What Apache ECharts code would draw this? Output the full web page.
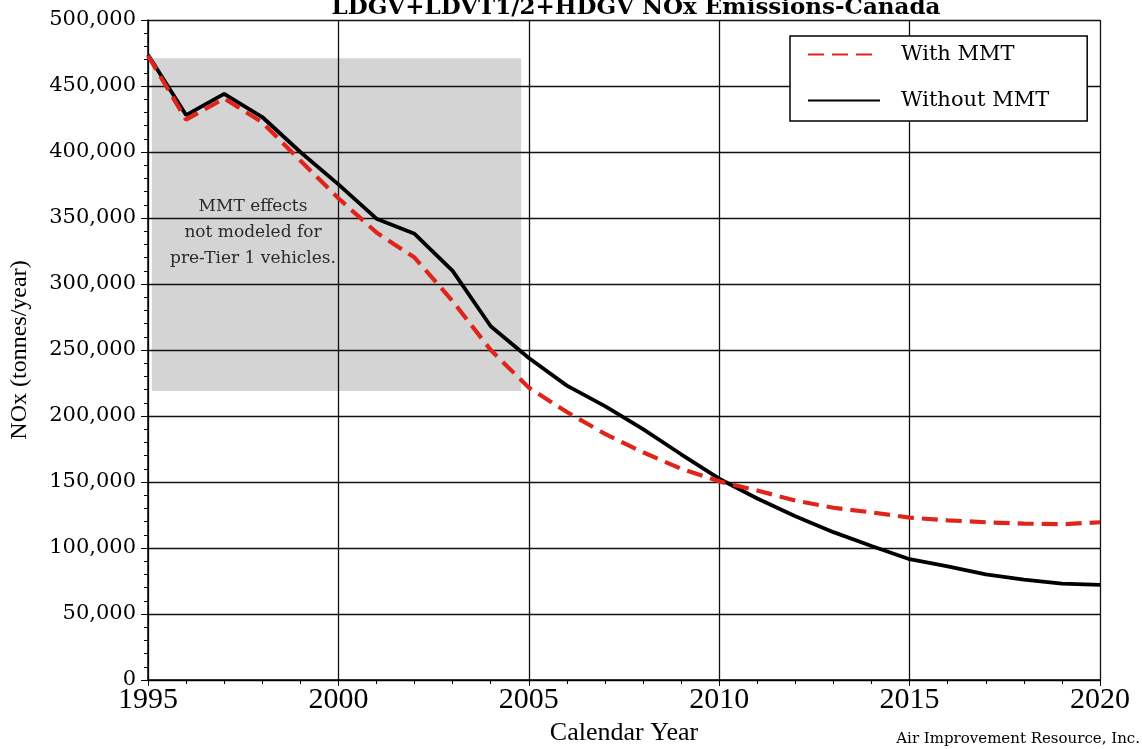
<!DOCTYPE html>
<html>
<head>
<meta charset="utf-8">
<script src="https://cdn.jsdelivr.net/npm/echarts@6/dist/echarts.min.js"></script>
<style>
html,body{margin:0;padding:0;background:#fff;}
#chart{width:1142px;height:749px;}
</style>
</head>
<body>
<div id="chart"></div>
<script>
var years = [1995,1996,1997,1998,1999,2000,2001,2002,2003,2004,2005,2006,2007,2008,2009,2010,2011,2012,2013,2014,2015,2016,2017,2018,2019,2020];
var withMMT = [473000,424500,440500,422500,393500,365000,339000,320000,287000,250000,221500,203000,186500,172500,160000,150500,143500,136000,130500,127000,123000,121000,119500,118500,118000,119500];
var withoutMMT = [473600,428000,444000,426500,400000,375500,349500,338000,310000,268000,244000,223000,207500,190000,171000,152500,137500,124000,112000,101500,91500,86000,80000,76000,73000,72000];
var shadeX = [1995.1, 2004.8];
var shadeY = [219000, 471000];
var seriesNames = ['With MMT', 'Without MMT'];
var titleText = 'LDGV+LDVT1/2+HDGV NOx Emissions-Canada';
var noteLines = ['MMT effects', 'not modeled for', 'pre-Tier 1 vehicles.'];

function pairs(xs, ys){ return xs.map(function(x,i){ return [x, ys[i]]; }); }

var chart = echarts.init(document.getElementById('chart'));
var serif = 'DejaVu Serif';
var option = {
  animation: false,
  backgroundColor: '#fff',
  grid: {left: 148, right: 42, top: 20, bottom: 69, containLabel: false, outerBoundsMode: 'none'},
  legend: {
    data: seriesNames,
    orient: 'vertical',
    left: 790, top: 36,
    padding: [8, 38, 10, 17],
    itemGap: 25,
    itemWidth: 72, itemHeight: 14,
    backgroundColor: '#fff',
    borderColor: '#000', borderWidth: 1.5,
    itemStyle: {opacity: 0},
    textStyle: {fontFamily: serif, fontSize: 21, color: '#000', padding: [0,0,0,16]},
    z: 10
  },
  xAxis: {
    type: 'value', min: 1995, max: 2020, interval: 5, z: 1,
    name: 'Calendar Year', nameLocation: 'middle', nameGap: 38,
    nameTextStyle: {fontFamily: 'Liberation Serif', fontSize: 26, color: '#000'},
    axisLine: {show: true, lineStyle: {color: '#000', width: 1.5}},
    axisTick: {show: true, length: 6, lineStyle: {color: '#000'}},
    minorTick: {show: true, splitNumber: 5, length: 4, lineStyle: {color: '#000'}},
    axisLabel: {fontFamily: 'Liberation Serif', fontSize: 30, color: '#000', margin: 5,
      formatter: function(v){ return String(v); }},
    splitLine: {show: true, lineStyle: {color: '#111', width: 1.3}}
  },
  yAxis: {
    type: 'value', min: 0, max: 500000, interval: 50000, z: 1,
    name: 'NOx (tonnes/year)', nameLocation: 'middle', nameGap: 116, nameRotate: 90,
    nameTextStyle: {fontFamily: 'Liberation Serif', fontSize: 24, color: '#000'},
    axisLine: {show: true, lineStyle: {color: '#000', width: 1.5}},
    axisTick: {show: true, length: 7, lineStyle: {color: '#000'}},
    minorTick: {show: true, splitNumber: 5, length: 4, lineStyle: {color: '#000'}},
    axisLabel: {fontFamily: serif, fontSize: 21, color: '#000', margin: 12,
      formatter: function(v){ return v.toLocaleString('en-US'); }},
    splitLine: {show: true, lineStyle: {color: '#111', width: 1.3}}
  },
  series: [
    {
      name: 'shade', type: 'custom', z: 0, silent: true,
      data: [[shadeX[0], shadeY[1], shadeX[1], shadeY[0]]],
      renderItem: function(params, api){
        var p0 = api.coord([api.value(0), api.value(1)]);
        var p1 = api.coord([api.value(2), api.value(3)]);
        return {type: 'rect', shape: {x: p0[0], y: p0[1], width: p1[0]-p0[0], height: p1[1]-p0[1]},
          style: {fill: '#d4d4d4'}};
      },
      encode: {x: [0, 2], y: [1, 3]}
    },
    {
      name: seriesNames[1], type: 'line', data: pairs(years, withoutMMT), z: 3,
      symbol: 'none', color: '#000',
      lineStyle: {color: '#000', width: 3.8}
    },
    {
      name: seriesNames[0], type: 'line', data: pairs(years, withMMT), z: 4,
      symbol: 'none', color: '#e0241b',
      lineStyle: {color: '#e0241b', width: 4.2, type: [16, 8]}
    }
  ],
  graphic: [
    {type: 'text', x: 636, y: -3, z: 10, style: {text: titleText, font: 'bold 23px "DejaVu Serif"', fill: '#000', textAlign: 'center'}},
    {type: 'text', x: 253, y: 207, z: 10, style: {text: noteLines[0], font: '17px "DejaVu Serif"', fill: '#2a2a2a', textAlign: 'center', textVerticalAlign: 'middle'}},
    {type: 'text', x: 253, y: 233, z: 10, style: {text: noteLines[1], font: '17px "DejaVu Serif"', fill: '#2a2a2a', textAlign: 'center', textVerticalAlign: 'middle'}},
    {type: 'text', x: 253, y: 259, z: 10, style: {text: noteLines[2], font: '17px "DejaVu Serif"', fill: '#2a2a2a', textAlign: 'center', textVerticalAlign: 'middle'}},
    {type: 'text', right: 2, bottom: 2, z: 10, style: {text: 'Air Improvement Resource, Inc.', font: '15px "DejaVu Serif"', fill: '#000'}}
  ]
};
chart.setOption(option);
</script>
</body>
</html>
